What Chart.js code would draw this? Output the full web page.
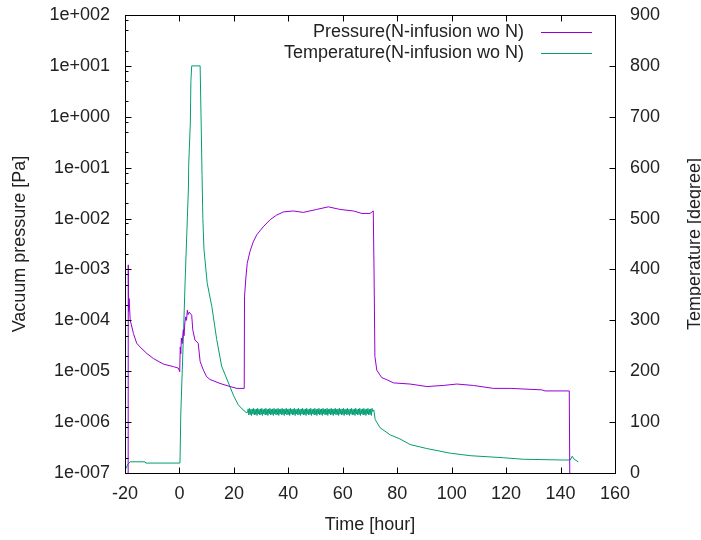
<!DOCTYPE html>
<html>
<head>
<meta charset="utf-8">
<script src="https://cdn.jsdelivr.net/npm/chart.js@4"></script>
<style>
  body { margin: 0; background: #fff; }
  #wrap { width: 701px; height: 540px; }
</style>
</head>
<body>
<div id="wrap"><canvas id="chart" width="701" height="540"></canvas></div>
<script>
"use strict";

// Pressure (log scale, Pa) vs time (hour)
const pressureTime = [
  -18.85, -18.8, -18.7, -18.5, -18.1, -16.9, -15.7, -14.5, -12.0, -9.6, -5.9, -2.2, -0.4, 0.1,
  0.3, 0.5, 0.7, 1.0, 1.4, 1.7, 2.0, 2.3, 2.6, 2.9, 3.2, 3.6, 4.5, 4.9, 5.7, 6.9, 7.6, 8.8,
  10.0, 11.2, 14.9, 18.6, 21.1, 23.8, 23.9, 24.4, 24.9, 25.9, 27.1, 28.4, 30.8, 33.3, 35.7,
  38.2, 41.8, 45.5, 50.4, 54.7, 59.0, 63.9, 67.0, 70.0, 71.2, 71.5, 71.8, 72.5, 74.3, 76.2,
  78.6, 84.7, 90.9, 96.9, 101.9, 108.0, 115.3, 121.5, 133.1, 134.3, 143.2, 143.5
];
const pressureValue = [
  1e-8, 1.23e-3, 1.5e-4, 2.7e-4, 1.02e-4, 5.5e-5, 3.55e-5, 3.0e-5, 2.24e-5, 1.78e-5, 1.38e-5, 1.23e-5, 1.15e-5, 9.8e-6,
  3.0e-5, 2.2e-5, 4.5e-5, 3.5e-5, 6.5e-5, 5.0e-5, 9.0e-5, 1.17e-4, 1.0e-4, 1.58e-4, 1.3e-4, 1.45e-4, 1.26e-4, 6.5e-5, 4.1e-5, 3.55e-5, 1.55e-5, 1.05e-5,
  7.8e-6, 6.9e-6, 5.75e-6, 5.0e-6, 4.6e-6, 4.6e-6, 2.9e-4, 6.8e-4, 1.32e-3, 2.24e-3, 3.47e-3, 4.8e-3, 6.9e-3, 9.5e-3, 1.17e-2,
  1.35e-2, 1.41e-2, 1.32e-2, 1.51e-2, 1.7e-2, 1.51e-2, 1.41e-2, 1.26e-2, 1.26e-2, 1.41e-2, 7.8e-4, 1.95e-5, 1.05e-5, 7.5e-6, 6.8e-6,
  5.9e-6, 5.6e-6, 5.0e-6, 5.25e-6, 5.6e-6, 5.25e-6, 4.6e-6, 4.6e-6, 4.3e-6, 4.1e-6, 4.1e-6, 1e-8
];

// Temperature (degree) vs time (hour): heating, hold, cooling
const heatTime = [-19.6, -19.0, -18.1, -12.6, -12.4, 0.2, 0.5, 1.0, 1.5, 2.1, 2.7, 3.3, 3.4, 4.0, 4.2, 4.5,
  7.6, 8.0, 8.3, 8.6, 9.0, 10.2, 11.9, 13.7, 15.5, 18.0, 19.8, 21.6, 23.0, 24.5];
const heatTemp = [9, 17, 22, 22, 19.5, 19.5, 118, 196, 275, 379, 470, 560, 605, 688, 769, 800,
  800, 680, 585, 500, 440, 373, 327, 262, 210, 177, 153, 134, 126, 119];

const holdTime = [
  25, 25.25, 25.5, 25.75, 26, 26.25, 26.5, 26.75,
  27, 27.25, 27.5, 27.75, 28, 28.25, 28.5, 28.75,
  29, 29.25, 29.5, 29.75, 30, 30.25, 30.5, 30.75,
  31, 31.25, 31.5, 31.75, 32, 32.25, 32.5, 32.75,
  33, 33.25, 33.5, 33.75, 34, 34.25, 34.5, 34.75,
  35, 35.25, 35.5, 35.75, 36, 36.25, 36.5, 36.75,
  37, 37.25, 37.5, 37.75, 38, 38.25, 38.5, 38.75,
  39, 39.25, 39.5, 39.75, 40, 40.25, 40.5, 40.75,
  41, 41.25, 41.5, 41.75, 42, 42.25, 42.5, 42.75,
  43, 43.25, 43.5, 43.75, 44, 44.25, 44.5, 44.75,
  45, 45.25, 45.5, 45.75, 46, 46.25, 46.5, 46.75,
  47, 47.25, 47.5, 47.75, 48, 48.25, 48.5, 48.75,
  49, 49.25, 49.5, 49.75, 50, 50.25, 50.5, 50.75,
  51, 51.25, 51.5, 51.75, 52, 52.25, 52.5, 52.75,
  53, 53.25, 53.5, 53.75, 54, 54.25, 54.5, 54.75,
  55, 55.25, 55.5, 55.75, 56, 56.25, 56.5, 56.75,
  57, 57.25, 57.5, 57.75, 58, 58.25, 58.5, 58.75,
  59, 59.25, 59.5, 59.75, 60, 60.25, 60.5, 60.75,
  61, 61.25, 61.5, 61.75, 62, 62.25, 62.5, 62.75,
  63, 63.25, 63.5, 63.75, 64, 64.25, 64.5, 64.75,
  65, 65.25, 65.5, 65.75, 66, 66.25, 66.5, 66.75,
  67, 67.25, 67.5, 67.75, 68, 68.25, 68.5, 68.75,
  69, 69.25, 69.5, 69.75, 70, 70.25, 70.5, 70.75,
  71
];
const holdTemp = [
  119, 126, 114, 127, 115, 125, 113, 126,
  116, 127, 114, 125, 115, 126, 113, 127,
  116, 125, 114, 126, 115, 127, 113, 125,
  116, 126, 114, 127, 115, 125, 113, 126,
  116, 127, 114, 125, 115, 126, 113, 127,
  116, 125, 114, 126, 115, 127, 113, 125,
  116, 126, 114, 127, 115, 125, 113, 126,
  116, 127, 114, 125, 115, 126, 113, 127,
  116, 125, 114, 126, 115, 127, 113, 125,
  116, 126, 114, 127, 115, 125, 113, 126,
  116, 127, 114, 125, 115, 126, 113, 127,
  116, 125, 114, 126, 115, 127, 113, 125,
  116, 126, 114, 127, 115, 125, 113, 126,
  116, 127, 114, 125, 115, 126, 113, 127,
  116, 125, 114, 126, 115, 127, 113, 125,
  116, 126, 114, 127, 115, 125, 113, 126,
  116, 127, 114, 125, 115, 126, 113, 127,
  116, 125, 114, 126, 115, 127, 113, 125,
  116, 126, 114, 127, 115, 125, 113, 126,
  116, 127, 114, 125, 115, 126, 113, 127,
  116, 125, 114, 126, 115, 127, 113, 125,
  116, 126, 114, 127, 115, 125, 113, 126,
  116, 127, 114, 125, 115, 126, 113, 127,
  121
];

const coolTime = [71.4, 71.9, 73.7, 77.4, 81.0, 84.7, 90.9, 99.4, 106.8, 119.0, 126.3, 141.0, 143.5, 144.3, 145.0, 146.5];
const coolTemp = [124, 105, 89, 75, 67, 56, 48, 39, 34, 30, 27, 25.5, 25.5, 33, 27, 22];

// Axes
const pressureTickLabels = ["1e-007", "1e-006", "1e-005", "1e-004", "1e-003", "1e-002", "1e-001", "1e+000", "1e+001", "1e+002"];
const minorSteps = [2, 5, 8];
const timeRange = [-20, 160];
const tempRange = [0, 900];

const seriesLabels = ["Pressure(N-infusion wo N)", "Temperature(N-infusion wo N)"];
const seriesColors = ["#9400D3", "#009E73"];

const textColor = "#222";
const fontFamily = "'Liberation Sans', Arial, sans-serif";
Chart.defaults.font.family = fontFamily;
Chart.defaults.font.size = 18;
Chart.defaults.color = textColor;

const toPoints = (xs, ys) => xs.map((x, i) => ({ x: x, y: ys[i] }));

const tempTime = heatTime.concat(holdTime, coolTime);
const tempValue = heatTemp.concat(holdTemp, coolTemp);

function logTicks() {
  const ticks = [];
  pressureTickLabels.forEach((label, i) => {
    const v = Number(label);
    ticks.push({ value: v, major: true });
    if (i < pressureTickLabels.length - 1) {
      minorSteps.forEach((m) => ticks.push({ value: v * m, major: false }));
    }
  });
  return ticks;
}

function formatExp(v) {
  const e = Math.round(Math.log10(v));
  return "1e" + (e < 0 ? "-" : "+") + String(Math.abs(e)).padStart(3, "0");
}

// no extra room for half labels, the layout padding already covers it
function noEdgePadding(scale) {
  scale.paddingTop = 0;
  scale.paddingBottom = 0;
  scale.paddingLeft = 0;
  scale.paddingRight = 0;
}

// gnuplot-like frame: border, inward ticks, legend, right title
const gnuFrame = {
  id: "gnuFrame",
  afterDraw(chart) {
    const { ctx, chartArea: a, scales } = chart;
    const L = Math.round(a.left) + 0.5;
    const R = Math.round(a.right) + 0.5;
    const T = Math.round(a.top) + 0.5;
    const B = Math.round(a.bottom) + 0.5;
    ctx.save();
    ctx.strokeStyle = "#000";
    ctx.lineWidth = 1;
    ctx.beginPath();
    scales.x.ticks.forEach((t) => {
      const px = Math.round(scales.x.getPixelForValue(t.value)) + 0.5;
      ctx.moveTo(px, B); ctx.lineTo(px, B - 6);
      ctx.moveTo(px, T); ctx.lineTo(px, T + 6);
    });
    scales.y.ticks.forEach((t) => {
      const py = Math.round(scales.y.getPixelForValue(t.value)) + 0.5;
      ctx.moveTo(L, py); ctx.lineTo(L + (t.major ? 6 : 3), py);
    });
    scales.y2.ticks.forEach((t) => {
      const py = Math.round(scales.y2.getPixelForValue(t.value)) + 0.5;
      ctx.moveTo(R, py); ctx.lineTo(R - 6, py);
    });
    ctx.stroke();
    ctx.strokeRect(L, T, R - L, B - T);

    ctx.font = "18px " + fontFamily;
    ctx.fillStyle = textColor;

    // right axis title, reading bottom to top
    ctx.save();
    ctx.translate(695, (a.top + a.bottom) / 2);
    ctx.rotate(-Math.PI / 2);
    ctx.textAlign = "center";
    ctx.textBaseline = "middle";
    ctx.fillText("Temperature [degree]", 0, 0);
    ctx.restore();

    // legend
    ctx.textAlign = "right";
    ctx.textBaseline = "middle";
    chart.data.datasets.forEach((ds, i) => {
      const y = a.top + 17 + i * 21;
      ctx.fillText(ds.label, a.right - 91, y);
      ctx.strokeStyle = ds.borderColor;
      ctx.beginPath();
      ctx.moveTo(a.right - 74, Math.round(y) + 0.5);
      ctx.lineTo(a.right - 23, Math.round(y) + 0.5);
      ctx.stroke();
    });
    ctx.restore();
  }
};

// a solid "dash" keeps Chart.js off its fast path, which merges points per pixel column
const solidDash = [2000, 0];

new Chart(document.getElementById("chart"), {
  type: "line",
  data: {
    datasets: [
      {
        label: seriesLabels[0],
        data: toPoints(pressureTime, pressureValue),
        yAxisID: "y",
        borderColor: seriesColors[0],
        borderWidth: 1,
        borderDash: solidDash,
        pointRadius: 0,
        tension: 0,
        fill: false,
      },
      {
        label: seriesLabels[1],
        data: toPoints(tempTime, tempValue),
        yAxisID: "y2",
        borderColor: seriesColors[1],
        borderWidth: 1,
        borderDash: solidDash,
        pointRadius: 0,
        tension: 0,
        fill: false,
      },
    ],
  },
  options: {
    responsive: false,
    animation: false,
    devicePixelRatio: 1,
    layout: { padding: { top: 15, right: 0, bottom: 0, left: 0 } },
    plugins: { legend: { display: false }, tooltip: { enabled: false } },
    scales: {
      x: {
        type: "linear",
        min: timeRange[0],
        max: timeRange[1],
        grid: { display: false, drawTicks: false },
        border: { display: false },
        ticks: { stepSize: 20, padding: 10, maxRotation: 0, autoSkip: false },
        title: { display: true, text: "Time [hour]", padding: { top: 0, bottom: 4 } },
        afterFit: (scale) => { scale.height = 67; noEdgePadding(scale); },
      },
      y: {
        type: "logarithmic",
        position: "left",
        min: Number(pressureTickLabels[0]),
        max: Number(pressureTickLabels[pressureTickLabels.length - 1]),
        grid: { display: false, drawTicks: false },
        border: { display: false },
        afterBuildTicks: (scale) => { scale.ticks = logTicks(); },
        ticks: {
          padding: 15,
          autoSkip: false,
          callback: (value, i, ticks) => (ticks[i].major ? formatExp(value) : ""),
        },
        title: { display: true, text: "Vacuum pressure [Pa]", padding: { top: 9, bottom: 0 } },
        afterFit: (scale) => { scale.width = 125; noEdgePadding(scale); },
      },
      y2: {
        type: "linear",
        position: "right",
        min: tempRange[0],
        max: tempRange[1],
        grid: { display: false, drawTicks: false },
        border: { display: false },
        ticks: { stepSize: 100, padding: 15, autoSkip: false },
        afterFit: (scale) => { scale.width = 86; noEdgePadding(scale); },
      },
    },
  },
  plugins: [gnuFrame],
});
</script>
</body>
</html>
